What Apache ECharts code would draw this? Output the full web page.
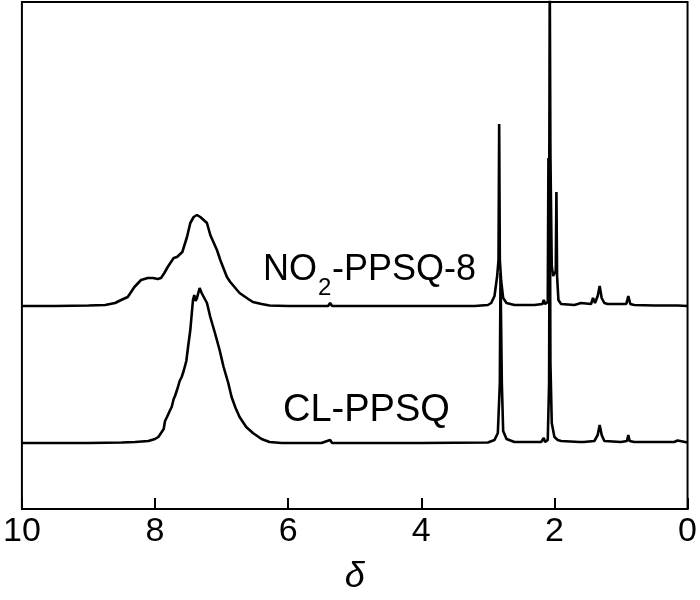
<!DOCTYPE html>
<html>
<head>
<meta charset="utf-8">
<script src="https://cdn.jsdelivr.net/npm/echarts@6/dist/echarts.min.js"></script>
<style>html,body{margin:0;padding:0;background:#fff;}#chart{width:700px;height:600px;}</style>
</head>
<body>
<div id="chart"></div>
<script>
// Chemical shift axis ticks
const xTicks = [10, 8, 6, 4, 2, 0];
const axisTitle = 'δ';

// NO2-PPSQ-8 spectrum: chemical shift (ppm) and intensity above its baseline
const no2Ppm = [10.0, 9.5, 9.0, 8.75, 8.6, 8.51, 8.41, 8.31, 8.21, 8.11, 8.03, 7.96, 7.91, 7.86, 7.81, 7.72, 7.67, 7.59, 7.52, 7.47, 7.42, 7.37, 7.32, 7.22, 7.17, 7.07, 7.02, 6.92, 6.87, 6.73, 6.6, 6.53, 6.4, 6.28, 6.0, 5.5, 5.4, 5.37, 5.34, 5.0, 4.0, 3.2, 3.0, 2.95, 2.9, 2.86, 2.84, 2.83, 2.82, 2.80, 2.77, 2.72, 2.6, 2.3, 2.18, 2.16, 2.14, 2.10, 2.09, 2.08, 2.07, 2.06, 2.04, 2.02, 1.98, 1.97, 1.96, 1.94, 1.9, 1.7, 1.6, 1.57, 1.45, 1.42, 1.39, 1.35, 1.32, 1.29, 1.25, 1.2, 1.1, 0.92, 0.89, 0.86, 0.8, 0.5, 0.15, 0.0];
const no2Int = [0, 0, 0.5, 1, 3, 6, 9, 19, 26, 28, 28, 27, 28, 33, 39, 48, 49, 54, 69, 83, 89, 91, 89, 83, 71, 56, 46, 29, 24, 13, 7, 4, 2, 0.5, 0, 0, 0, 3, 0, 0, 0, 0, 1, 3, 10, 30, 46, 182, 46, 25, 8, 3, 1, 1, 2, 6, 2, 4, 148, 60, 330, 150, 40, 30, 35, 114, 30, 6, 2, 1, 3, 1, 2, 8, 3, 10, 20, 8, 3, 2, 2, 2, 10, 2, 1, 0.5, 0.5, 0];
const no2Offset = 203;

// CL-PPSQ spectrum: chemical shift (ppm) and intensity above its baseline
const clPpm = [10.0, 9.0, 8.5, 8.3, 8.1, 8.0, 7.95, 7.90, 7.87, 7.85, 7.82, 7.78, 7.75, 7.72, 7.70, 7.66, 7.63, 7.60, 7.57, 7.53, 7.50, 7.47, 7.45, 7.43, 7.41, 7.39, 7.37, 7.33, 7.30, 7.27, 7.22, 7.17, 7.10, 7.03, 6.97, 6.90, 6.85, 6.79, 6.73, 6.63, 6.53, 6.40, 6.28, 6.1, 5.5, 5.37, 5.34, 4.0, 3.0, 2.9, 2.85, 2.82, 2.81, 2.80, 2.79, 2.77, 2.72, 2.6, 2.2, 2.16, 2.14, 2.1, 2.08, 2.07, 2.06, 2.04, 2.0, 1.95, 1.9, 1.62, 1.59, 1.56, 1.4, 1.35, 1.32, 1.29, 1.25, 1.0, 0.91, 0.89, 0.87, 0.8, 0.2, 0.15, 0.12, 0.0];
const clInt = [0, 0, 0.5, 1, 2, 4, 6, 11, 14, 22, 26, 32, 36, 44, 47, 55, 62, 66, 72, 82, 98, 113, 128, 143, 148, 142, 145, 155, 150, 148, 140, 126, 110, 93, 76, 60, 46, 35, 26, 16, 10, 4, 1, 0, 0, 3, 0, 0, 0.5, 3, 10, 60, 170, 168, 60, 12, 4, 1, 1, 5, 1, 3, 60, 300, 80, 20, 6, 3, 2, 1, 3, 1, 2, 8, 18, 8, 2, 1, 2, 8, 2, 1, 1, 2.5, 1, 0.5];
const clOffset = 66;

const labelNo2Main = 'NO';
const labelNo2Sub = '2';
const labelNo2Rest = '-PPSQ-8';
const labelCl = 'CL-PPSQ';

function build(ppm, inten, off) {
  return ppm.map((p, i) => [p, inten[i] + off]);
}

const font = "'Liberation Sans', Arial, sans-serif";
const chart = echarts.init(document.getElementById('chart'));
chart.setOption({
  animation: false,
  backgroundColor: '#fff',
  grid: { left: 16, right: 10, top: 2, bottom: 90, show: true, borderColor: '#000', borderWidth: 2, backgroundColor: 'transparent' },
  xAxis: {
    type: 'value', min: 0, max: 10, interval: 2, inverse: true,
    name: axisTitle, nameLocation: 'middle', nameGap: 50,
    nameTextStyle: { fontFamily: font, fontStyle: 'italic', fontSize: 36, color: '#000' },
    axisLine: { show: true, lineStyle: { color: '#000', width: 2 } },
    axisTick: { show: true, inside: true, length: 11, lineStyle: { color: '#000', width: 2 } },
    axisLabel: { fontFamily: font, fontSize: 34, color: '#000', margin: 6,
      formatter: v => xTicks.includes(v) ? String(v) : '' },
    splitLine: { show: false }
  },
  yAxis: { type: 'value', min: 0, max: 507, show: false },
  series: [
    { type: 'line', data: build(clPpm, clInt, clOffset), showSymbol: false, clip: true,
      lineStyle: { color: '#000', width: 2.6 }, silent: true },
    { type: 'line', data: build(no2Ppm, no2Int, no2Offset), showSymbol: false, clip: true,
      lineStyle: { color: '#000', width: 2.6 }, silent: true }
  ],
  graphic: [
    { type: 'text', x: 263, y: 270, style: { text: labelNo2Main, font: '36px ' + font, fill: '#000', textVerticalAlign: 'middle' } },
    { type: 'text', x: 318, y: 288, style: { text: labelNo2Sub, font: '24px ' + font, fill: '#000', textVerticalAlign: 'middle' } },
    { type: 'text', x: 332, y: 270, style: { text: labelNo2Rest, font: '36px ' + font, fill: '#000', textVerticalAlign: 'middle' } },
    { type: 'text', x: 283, y: 411, style: { text: labelCl, font: '38px ' + font, fill: '#000', textVerticalAlign: 'middle' } }
  ]
});
</script>
</body>
</html>
